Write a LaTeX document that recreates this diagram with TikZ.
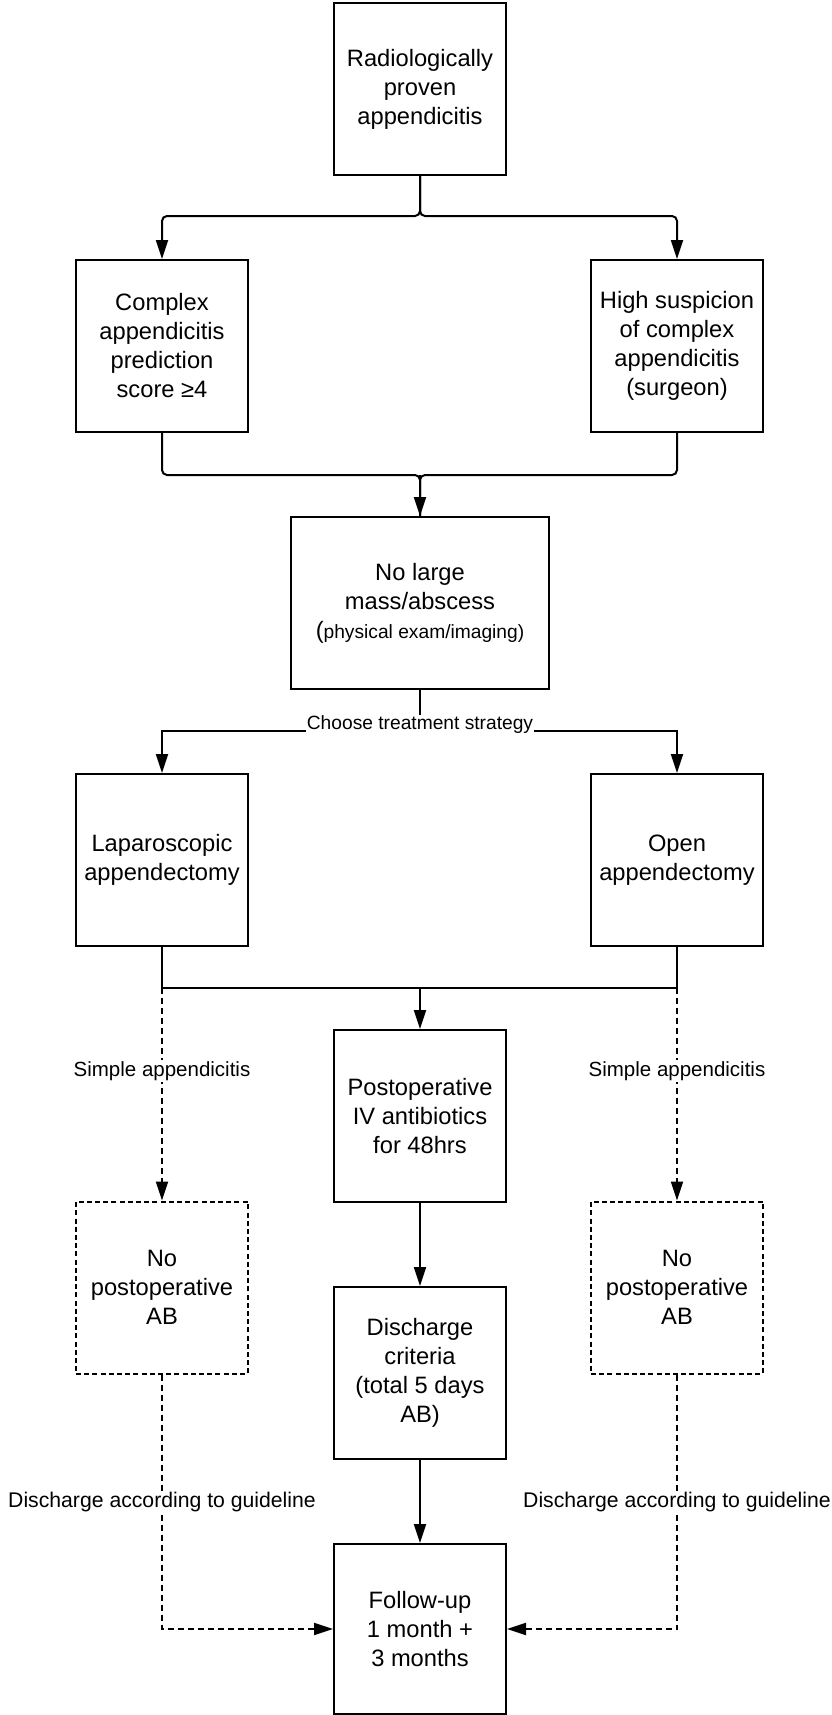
\documentclass[tikz,border=0pt]{standalone}
\usepackage{fontspec}
\setmainfont{Liberation Sans}
\usetikzlibrary{arrows.meta}
\begin{document}
\begin{tikzpicture}[x=1pt,y=-1pt,
  box/.style={draw, line width=2pt, minimum width=172pt, minimum height=172pt, align=center, inner sep=2pt,
    font=\fontsize{23.7}{29}\selectfont},
  dbox/.style={box, dash pattern=on 5pt off 3.2pt},
  lbl/.style={fill=white, inner sep=1pt, font=\fontsize{20.5}{24}\selectfont},
  ln/.style={line width=2pt},
  arr/.style={ln, -{Triangle[length=19pt,width=12pt]}},
  darr/.style={arr, dash pattern=on 6pt off 4pt},
]
\useasboundingbox (0,0) rectangle (832,1715);

\node[box] (top) at (420,89) {Radiologically\\proven\\appendicitis};
\node[box] (cplx) at (162,346) {Complex\\appendicitis\\prediction\\score ≥4};
\node[box] (high) at (677,346) {High suspicion\\of complex\\appendicitis\\(surgeon)};
\node[box, minimum width=258pt] (nolarge) at (420,603) {No large\\mass/abscess\\{\fontsize{19.2}{23}\selectfont{\fontsize{23.7}{29}\selectfont(}physical exam/imaging)}};
\node[box] (lap) at (162,860) {Laparoscopic\\appendectomy};
\node[box] (open) at (677,860) {Open\\appendectomy};
\node[box] (postop) at (420,1116) {Postoperative\\IV antibiotics\\for 48hrs};
\node[dbox] (nol) at (162,1287.5) {No\\postoperative\\AB};
\node[dbox] (nor) at (677,1287.5) {No\\postoperative\\AB};
\node[box] (disc) at (420,1373) {Discharge\\criteria\\(total 5 days\\AB)};
\node[box, minimum height=170pt] (follow) at (420,1629) {Follow-up\\1 month +\\3 months};

\coordinate (j1) at (420,216);
\coordinate (j2) at (420,475);
\coordinate (j3) at (420,731);
\coordinate (j4) at (420,988);

% top branch
\draw[arr, rounded corners=5pt] (top.south) |- (cplx.north |- j1) -- (cplx.north);
\draw[arr, rounded corners=5pt] (top.south) |- (high.north |- j1) -- (high.north);
% merge
\draw[ln, rounded corners=5pt] (cplx.south) |- (j2) -- (nolarge.north);
\draw[ln, rounded corners=5pt] (high.south) |- (j2) -- (nolarge.north);
\draw[arr] (j2) -- (nolarge.north);
% choose
\draw[ln] (nolarge.south) -- (j3);
\draw[arr] (j3) -| (lap.north);
\draw[arr] (j3) -| (open.north);
\node[lbl, font=\fontsize{19.2}{23}\selectfont] (choose) at (420,725) {Choose treatment strategy};
% merge surgery
\draw[ln] (lap.south) |- (j4);
\draw[ln] (open.south) |- (j4);
\draw[arr] (j4) -- (postop.north);
% simple
\draw[darr] (lap.south |- j4) -- (nol.north);
\draw[darr] (open.south |- j4) -- (nor.north);
\node[lbl] (sl) at (162,1071) {Simple appendicitis};
\node[lbl] (sr) at (677,1071) {Simple appendicitis};
% center chain
\draw[arr] (postop.south) -- (disc.north);
\draw[arr] (disc.south) -- (follow.north);
% guideline
\draw[darr] (nol.south) |- (follow.west);
\draw[darr] (nor.south) |- (follow.east);
\node[lbl, font=\fontsize{21.2}{25}\selectfont] (gl) at (162,1502) {Discharge according to guideline};
\node[lbl, font=\fontsize{21.2}{25}\selectfont] (gr) at (677,1502) {Discharge according to guideline};
\end{tikzpicture}
\end{document}
